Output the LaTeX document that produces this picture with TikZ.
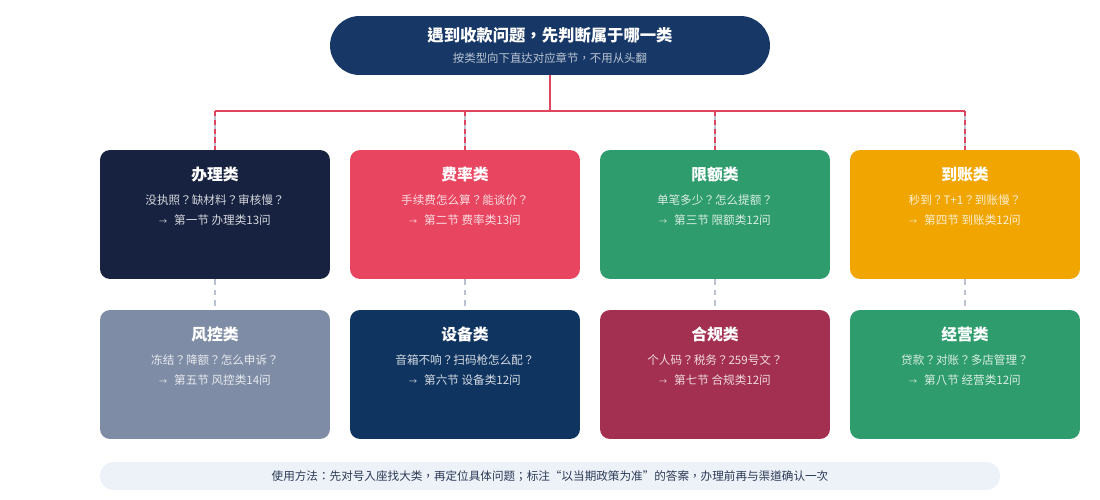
\documentclass[tikz,border=0pt]{standalone}
\usepackage{fontspec}
\setmainfont{Noto Sans CJK TC}
\usetikzlibrary{calc}
\definecolor{topblue}{HTML}{173867}
\definecolor{linkred}{HTML}{E0455F}
\definecolor{linkgray}{HTML}{BAC3CF}
\definecolor{navy}{HTML}{172240}
\definecolor{rosered}{HTML}{E84560}
\definecolor{jade}{HTML}{2E9C6C}
\definecolor{amber}{HTML}{F0A500}
\definecolor{slate}{HTML}{7E8CA5}
\definecolor{deepblue}{HTML}{0F3460}
\definecolor{wine}{HTML}{A33050}
\definecolor{notebg}{HTML}{EDF2F9}
\definecolor{notetext}{HTML}{2B3A55}
\newcommand{\pointer}{{\fontsize{4.6}{6}\selectfont →}\hspace{0.6em}}
\begin{document}
\begin{tikzpicture}[x=0.02cm,y=-0.02cm,
  catbox/.style={rectangle, rounded corners=0.2cm, minimum width=4.6cm, minimum height=2.58cm, inner sep=0pt},
  cattitle/.style={text=white, font=\bfseries\fontsize{9}{11}\selectfont},
  catline/.style={text=white, text opacity=0.82, font=\fontsize{6.6}{8}\selectfont},
  feed/.style={draw=linkred, line width=1.1pt},
  drop/.style={draw=linkred, line width=1.1pt, dash pattern=on 3pt off 2pt,
    preaction={draw=linkgray, solid, line width=1.1pt}},
  link/.style={draw=linkgray, line width=0.9pt, dash pattern=on 3pt off 3pt}]
  \useasboundingbox (0,0) rectangle (1100,500);
  % En-tête
  \node[fill=topblue, rounded corners=0.59cm, minimum width=8.8cm, minimum height=1.18cm] (top) at (550,45.5) {};
  \node[text=white, font=\bfseries\fontsize{9.3}{11}\selectfont] (toptitle) at (550,35) {遇到收款问题，先判断属于哪一类};
  \node[text=white, text opacity=0.7, font=\fontsize{6.5}{8}\selectfont] (topsub) at (550,58) {按类型向下直达对应章节，不用从头翻};
  % Première rangée
  \node[catbox, fill=navy] (b1) at (215,214.5) {};
  \node[cattitle] at ($(b1.north)+(0,25)$) {办理类};
  \node[catline] at ($(b1.north)+(0,50)$) {没执照？缺材料？审核慢？};
  \node[catline] at ($(b1.north)+(0,70)$) {\pointer 第一节 办理类13问};
  \node[catbox, fill=rosered] (b2) at (465,214.5) {};
  \node[cattitle] at ($(b2.north)+(0,25)$) {费率类};
  \node[catline] at ($(b2.north)+(0,50)$) {手续费怎么算？能谈价？};
  \node[catline] at ($(b2.north)+(0,70)$) {\pointer 第二节 费率类13问};
  \node[catbox, fill=jade] (b3) at (715,214.5) {};
  \node[cattitle] at ($(b3.north)+(0,25)$) {限额类};
  \node[catline] at ($(b3.north)+(0,50)$) {单笔多少？怎么提额？};
  \node[catline] at ($(b3.north)+(0,70)$) {\pointer 第三节 限额类12问};
  \node[catbox, fill=amber] (b4) at (965,214.5) {};
  \node[cattitle] at ($(b4.north)+(0,25)$) {到账类};
  \node[catline] at ($(b4.north)+(0,50)$) {秒到？T+1？到账慢？};
  \node[catline] at ($(b4.north)+(0,70)$) {\pointer 第四节 到账类12问};
  % Deuxième rangée
  \node[catbox, fill=slate] (b5) at (215,374.5) {};
  \node[cattitle] at ($(b5.north)+(0,25)$) {风控类};
  \node[catline] at ($(b5.north)+(0,50)$) {冻结？降额？怎么申诉？};
  \node[catline] at ($(b5.north)+(0,70)$) {\pointer 第五节 风控类14问};
  \node[catbox, fill=deepblue] (b6) at (465,374.5) {};
  \node[cattitle] at ($(b6.north)+(0,25)$) {设备类};
  \node[catline] at ($(b6.north)+(0,50)$) {音箱不响？扫码枪怎么配？};
  \node[catline] at ($(b6.north)+(0,70)$) {\pointer 第六节 设备类12问};
  \node[catbox, fill=wine] (b7) at (715,374.5) {};
  \node[cattitle] at ($(b7.north)+(0,25)$) {合规类};
  \node[catline] at ($(b7.north)+(0,50)$) {个人码？税务？259号文？};
  \node[catline] at ($(b7.north)+(0,70)$) {\pointer 第七节 合规类12问};
  \node[catbox, fill=jade] (b8) at (965,374.5) {};
  \node[cattitle] at ($(b8.north)+(0,25)$) {经营类};
  \node[catline] at ($(b8.north)+(0,50)$) {贷款？对账？多店管理？};
  \node[catline] at ($(b8.north)+(0,70)$) {\pointer 第八节 经营类12问};
  % Liaisons
  \coordinate (hub) at (550,111);
  \draw[feed] (top.south) -- (hub);
  \draw[feed] (b1.north |- hub) -- (b4.north |- hub);
  \draw[drop] (b1.north |- hub) -- (b1.north);
  \draw[drop] (b2.north |- hub) -- (b2.north);
  \draw[drop] (b3.north |- hub) -- (b3.north);
  \draw[drop] (b4.north |- hub) -- (b4.north);
  \draw[link] (b1.south) -- (b5.north);
  \draw[link] (b2.south) -- (b6.north);
  \draw[link] (b3.south) -- (b7.north);
  \draw[link] (b4.south) -- (b8.north);
  % Note
  \node[fill=notebg, rounded corners=0.26cm, minimum width=18cm, minimum height=0.56cm, text=notetext, font=\fontsize{6.6}{8}\selectfont] (note) at (550,476) {使用方法：先对号入座找大类，再定位具体问题；标注“以当期政策为准”的答案，办理前再与渠道确认一次};
\end{tikzpicture}
\end{document}
